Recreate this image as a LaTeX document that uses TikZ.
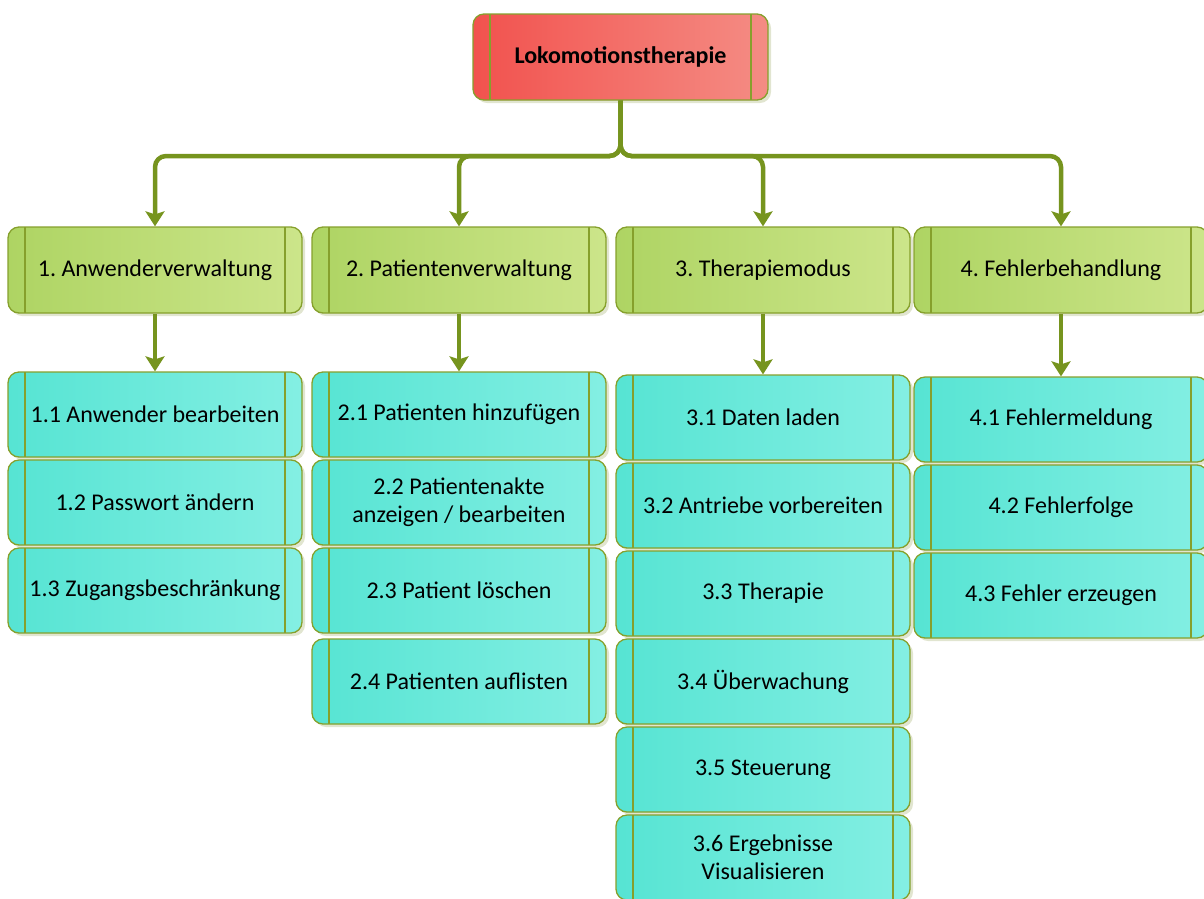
\documentclass[tikz,border=0pt]{standalone}
\usepackage{fontspec}
\setmainfont{Carlito}
\usetikzlibrary{arrows.meta,shadows}
\frenchspacing

\definecolor{linegreen}{HTML}{76941E}
\definecolor{edgeolive}{HTML}{86A02C}
\definecolor{redL}{HTML}{F2524E}
\definecolor{redR}{HTML}{F48C84}
\definecolor{greenL}{HTML}{AED463}
\definecolor{greenR}{HTML}{CCE58A}
\definecolor{cyanL}{HTML}{56E4D3}
\definecolor{cyanR}{HTML}{84EFE3}
\definecolor{shadowc}{HTML}{DADFC4}

\tikzset{
  box/.style={
    draw=edgeolive, line width=1.3pt, rounded corners=11pt,
    minimum width=294pt, minimum height=85pt, inner sep=0pt,
    align=center, font=\fontsize{24}{28}\selectfont,
    drop shadow={shadow xshift=3pt, shadow yshift=-3pt, fill=shadowc, opacity=0.8},
    path picture={
      \draw[edgeolive, line width=1.1pt]
        ([xshift=17pt]path picture bounding box.north west) --
        ([xshift=17pt]path picture bounding box.south west)
        ([xshift=-17pt]path picture bounding box.north east) --
        ([xshift=-17pt]path picture bounding box.south east);
    }},
  rootbox/.style={box, left color=redL, right color=redR,
    minimum width=295pt, minimum height=86pt, font=\fontsize{24}{28}\selectfont\bfseries},
  mainbox/.style={box, left color=greenL, right color=greenR, minimum height=86pt},
  subbox/.style={box, left color=cyanL, right color=cyanR},
  conn/.style={draw=linegreen, line width=4.5pt, rounded corners=11pt,
    -{Stealth[length=15pt, width=19pt, inset=3pt]}},
}

\begin{document}
\begin{tikzpicture}[x=1pt, y=-1pt]
\useasboundingbox (0,0) rectangle (1204,898);
\clip (0,0) rectangle (1204,898);

% root
\node[rootbox] (root) at (620.5,57) {Lokomotionstherapie};

% first level
\node[mainbox] (a) at (155,270) {1. Anwenderverwaltung};
\node[mainbox] (b) at (459,270) {2. Patientenverwaltung};
\node[mainbox] (c) at (763,270) {3. Therapiemodus};
\node[mainbox] (d) at (1061,270) {4. Fehlerbehandlung};

% column 1
\node[subbox] (a1) at (155,414.5) {1.1 Anwender bearbeiten};
\node[subbox] (a2) at (155,502.5) {1.2 Passwort ändern};
\node[subbox] (a3) at (155,590.5) {1.3 Zugangsbeschränkung};

% column 2
\node[subbox] (b1) at (459,414.5) {2.1 Patienten hinzufügen};
\node[subbox] (b2) at (459,502.5) {2.2 Patientenakte\\anzeigen / bearbeiten};
\node[subbox] (b3) at (459,590.5) {2.3 Patient löschen};
\node[subbox] (b4) at (459,681.5) {2.4 Patienten auflisten};

% column 3
\node[subbox] (c1) at (763,417.5) {3.1 Daten laden};
\node[subbox] (c2) at (763,505.5) {3.2 Antriebe vorbereiten};
\node[subbox] (c3) at (763,593.5) {3.3 Therapie};
\node[subbox] (c4) at (763,681.5) {3.4 Überwachung};
\node[subbox] (c5) at (763,769.5) {3.5 Steuerung};
\node[subbox] (c6) at (763,857.5) {3.6 Ergebnisse\\Visualisieren};

% column 4
\node[subbox] (d1) at (1061,419.5) {4.1 Fehlermeldung};
\node[subbox] (d2) at (1061,507.5) {4.2 Fehlerfolge};
\node[subbox] (d3) at (1061,595.5) {4.3 Fehler erzeugen};

% branching connectors from the root
\coordinate (hub) at (620.5,156);
\foreach \t in {a,b,c,d}
  \draw[conn] (root.south) |- (\t.north |- hub) -- (\t.north);

% connectors to the first item of each column
\draw[conn] (a.south) -- (a1.north);
\draw[conn] (b.south) -- (b1.north);
\draw[conn] (c.south) -- (c1.north);
\draw[conn] (d.south) -- (d1.north);
\end{tikzpicture}
\end{document}
